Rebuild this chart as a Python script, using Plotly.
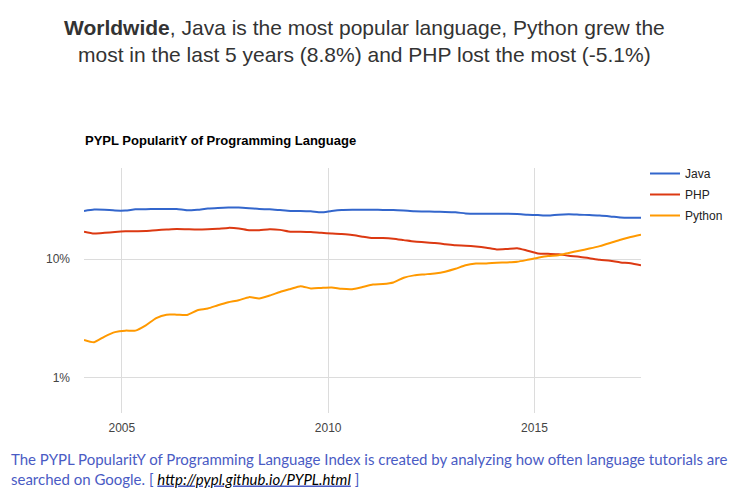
import plotly.graph_objects as go
import pandas as pd

dates = pd.date_range("2004-02-01", "2017-08-01", freq="3MS")

java = [25.6, 26.3, 26.2, 25.8, 25.8, 26.4, 26.5, 26.6, 26.6, 26.6,
        25.9, 26.2, 26.8, 27.1, 27.3, 27.3, 27.0, 26.6, 26.4, 26.0,
        25.6, 25.6, 25.4, 24.9, 25.6, 26.1, 26.2, 26.2, 26.2, 26.1,
        26.1, 25.8, 25.4, 25.3, 25.2, 25.1, 24.9, 24.4, 24.2, 24.2,
        24.2, 24.2, 24.1, 23.8, 23.6, 23.4, 23.8, 24.0, 23.8, 23.6,
        23.4, 23.0, 22.5, 22.4, 22.4]

php = [17.1, 16.5, 16.7, 17.0, 17.2, 17.25, 17.3, 17.6, 17.8, 18.0,
       17.9, 17.8, 17.9, 18.1, 18.4, 18.2, 17.6, 17.6, 17.9, 17.7,
       17.1, 17.1, 17.0, 16.7, 16.5, 16.3, 16.0, 15.5, 15.1, 15.1,
       14.9, 14.5, 14.1, 13.9, 13.7, 13.4, 13.1, 13.0, 12.8, 12.5,
       12.1, 12.2, 12.4, 11.8, 11.2, 11.1, 11.0, 10.7, 10.5, 10.2,
       9.9, 9.7, 9.4, 9.25, 8.9]

python = [2.08, 1.99, 2.22, 2.42, 2.49, 2.49, 2.76, 3.18, 3.40, 3.40,
          3.38, 3.70, 3.83, 4.08, 4.32, 4.50, 4.78, 4.66, 4.93, 5.28,
          5.60, 5.92, 5.66, 5.72, 5.76, 5.62, 5.58, 5.82, 6.10, 6.16,
          6.35, 6.98, 7.30, 7.44, 7.58, 7.85, 8.30, 8.90, 9.18, 9.20,
          9.34, 9.40, 9.52, 9.88, 10.3, 10.65, 10.8, 11.3, 11.8, 12.3,
          12.9, 13.7, 14.6, 15.4, 16.1]

series = [("Java", java, "#3366cc"), ("PHP", php, "#dc3912"), ("Python", python, "#ff9900")]

y_ticks = [1, 10]
y_ticktext = ["1%", "10%"]
x_ticks = ["2005-01-01", "2010-01-01", "2015-01-01"]
x_ticktext = ["2005", "2010", "2015"]

W, H = 745, 499
L, R, T, B = 84, 641, 168, 413


def px(xp):
    return (xp - L) / (R - L)


def py(yp):
    return (B - yp) / (B - T)


fig = go.Figure()
for name, vals, col in series:
    fig.add_trace(go.Scatter(x=dates, y=vals, name=name, mode="lines", legendgroup=name,
                             line=dict(color=col, width=2, shape="spline", smoothing=0.6)))

fig.update_layout(
    width=W, height=H,
    margin=dict(l=L, r=W - R, t=T, b=H - B, pad=0),
    paper_bgcolor="white", plot_bgcolor="white",
    font=dict(family="Liberation Sans, Arial, sans-serif", size=12, color="#444"),
    showlegend=True,
    legend=dict(x=px(645), y=py(159), xanchor="left", yanchor="top",
                font=dict(size=12, color="#222"), bgcolor="rgba(0,0,0,0)",
                traceorder="grouped", tracegroupgap=2, itemwidth=30),
    xaxis=dict(type="date", range=[dates[0], dates[-1]], tickvals=x_ticks, ticktext=x_ticktext,
               showgrid=True, gridcolor="#dcdcdc", gridwidth=1, showline=False, zeroline=False,
               ticks="", ticklabelstandoff=6, tickfont=dict(size=12, color="#444")),
    yaxis=dict(type="log", range=[-0.3, 1.771], tickvals=y_ticks, ticktext=y_ticktext,
               showgrid=True, gridcolor="#dcdcdc", gridwidth=1, showline=False, zeroline=False,
               ticks="", ticklabelstandoff=13, tickfont=dict(size=12, color="#444")),
)

fig.add_annotation(xref="paper", yref="paper", x=px(364), y=py(41), xanchor="center", yanchor="middle",
                   text="<b>Worldwide</b>, Java is the most popular language, Python grew the<br>"
                        "most in the last 5 years (8.8%) and PHP lost the most (-5.1%)",
                   showarrow=False, align="center",
                   font=dict(family="Liberation Sans, Arial, sans-serif", size=21, color="#333"))

fig.add_annotation(xref="paper", yref="paper", x=px(83), y=py(140), xanchor="left", yanchor="middle",
                   text="<b>PYPL PopularitY of Programming Language</b>",
                   showarrow=False, align="left",
                   font=dict(family="Liberation Sans, Arial, sans-serif", size=13, color="#000"))

fig.add_annotation(xref="paper", yref="paper", x=px(9), y=py(469.5), xanchor="left", yanchor="middle",
                   text="The PYPL PopularitY of Programming Language Index is created by analyzing how often language tutorials are<br>"
                        "searched on Google. [ <i><u><span style='color:#000'>http://pypl.github.io/PYPL.html</span></u></i> ]",
                   showarrow=False, align="left",
                   font=dict(family="Lato, sans-serif", size=15, color="#4a5bc4"))

fig.write_html("out.html")
